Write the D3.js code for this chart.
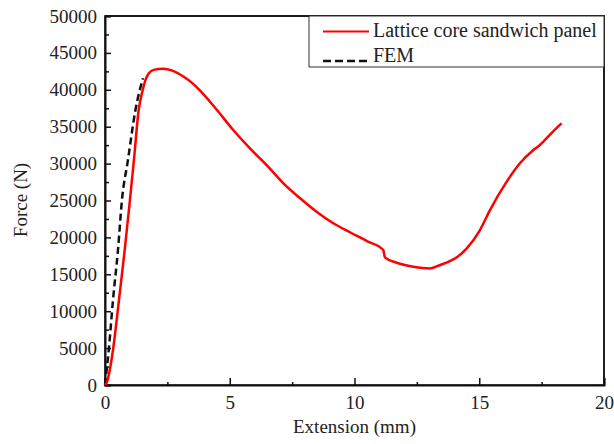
<!DOCTYPE html>
<html>
<head>
<script src="https://cdnjs.cloudflare.com/ajax/libs/d3/7.8.5/d3.min.js"></script>
<style>
  html, body { margin: 0; padding: 0; background: #fff; }
  svg text { font-family: "Liberation Serif", "Times New Roman", serif; fill: #222; }
</style>
</head>
<body>
<svg id="chart" width="614" height="444"></svg>
<script>
// measured curve: Lattice core sandwich panel
var panelExt = [0, 0.1, 0.2, 0.32, 0.56, 0.79, 0.98, 1.16, 1.35, 1.5, 1.62, 1.75, 1.95, 2.33, 2.7, 3.14, 3.5, 3.81, 4.48, 5.14, 5.81, 6.48, 7.15, 7.82, 8.48, 9.15, 9.82, 10.5, 11.15, 11.22, 11.69, 12.36, 13.03, 13.43, 14.1, 14.5, 15.03, 15.43, 16.1, 16.63, 17.17, 17.43, 17.8, 18.3];
var panelForce = [0, 600, 2200, 4740, 11500, 18300, 24400, 30500, 37260, 39800, 41300, 42200, 42700, 42850, 42600, 41800, 40900, 39900, 37300, 34550, 32070, 29800, 27330, 25300, 23480, 21910, 20700, 19500, 18300, 17300, 16570, 16030, 15800, 16260, 17300, 18520, 21000, 23700, 27550, 30040, 31840, 32520, 33800, 35460];

// FEM curve
var femExt = [0, 0.05, 0.15, 0.32, 0.52, 0.68, 0.92, 1.22, 1.52];
var femForce = [0, 1500, 4740, 11500, 18300, 25070, 30500, 37260, 41560];

var xTicks = [0, 5, 10, 15, 20];
var yTicks = [0, 5000, 10000, 15000, 20000, 25000, 30000, 35000, 40000, 45000, 50000];
var seriesNames = ["Lattice core sandwich panel", "FEM"];

var W = 614, H = 444;
var margin = { top: 16, right: 10, bottom: 59, left: 105 };
var iw = W - margin.left - margin.right, ih = H - margin.top - margin.bottom;

var svg = d3.select("#chart");
var g = svg.append("g").attr("transform", "translate(" + margin.left + "," + margin.top + ")");

var x = d3.scaleLinear().domain([0, 20]).range([0, iw]);
var y = d3.scaleLinear().domain([0, 50000]).range([ih, 0]);

// frame
g.append("rect").attr("width", iw).attr("height", ih)
  .attr("fill", "none").attr("stroke", "#111").attr("stroke-width", 1.5);

// minor ticks
g.append("g").attr("transform", "translate(0," + ih + ")")
  .call(d3.axisBottom(x).tickValues(d3.range(2.5, 20, 5)).tickSize(-3).tickFormat(""))
  .call(a => a.select(".domain").remove())
  .selectAll("line").attr("stroke", "#111").attr("stroke-width", 1.5);
g.append("g")
  .call(d3.axisLeft(y).tickValues(d3.range(2500, 50000, 5000)).tickSize(-4).tickFormat(""))
  .call(a => a.select(".domain").remove())
  .selectAll("line").attr("stroke", "#111").attr("stroke-width", 1.5);

// major axes
var xAxis = g.append("g").attr("transform", "translate(0," + ih + ")")
  .call(d3.axisBottom(x).tickValues(xTicks).tickSize(-7).tickPadding(11).tickFormat(d3.format("d")));
var yAxis = g.append("g")
  .call(d3.axisLeft(y).tickValues(yTicks).tickSize(-6).tickPadding(8).tickFormat(d3.format("d")));
[xAxis, yAxis].forEach(function(a) {
  a.select(".domain").attr("stroke", "#111").attr("stroke-width", 2);
  a.selectAll(".tick line").attr("stroke", "#111").attr("stroke-width", 1.5);
  a.selectAll("text").attr("font-size", 19).attr("fill", "#222")
    .style("font-family", "'Liberation Serif', serif");
});

// axis titles
svg.append("text").attr("x", margin.left + iw / 2).attr("y", 433)
  .attr("text-anchor", "middle").attr("font-size", 19).text("Extension (mm)");
svg.append("text").attr("transform", "translate(27,200) rotate(-90)")
  .attr("text-anchor", "middle").attr("font-size", 19).text("Force (N)");

var line = d3.line().x(d => x(d[0])).y(d => y(d[1])).curve(d3.curveMonotoneX);

g.append("path").datum(femExt.map((v, i) => [v, femForce[i]]))
  .attr("d", line).attr("fill", "none").attr("stroke", "#111")
  .attr("stroke-width", 2.5).attr("stroke-dasharray", "7,4");

g.append("path").datum(panelExt.map((v, i) => [v, panelForce[i]]))
  .attr("d", line).attr("fill", "none").attr("stroke", "#f00")
  .attr("stroke-width", 2.5).attr("stroke-linejoin", "round");

// legend
var lg = svg.append("g").attr("transform", "translate(309,16)");
lg.append("rect").attr("width", 295).attr("height", 51)
  .attr("fill", "#fff").attr("stroke", "#333").attr("stroke-width", 1);
lg.append("line").attr("x1", 14).attr("x2", 60).attr("y1", 15.5).attr("y2", 15.5)
  .attr("stroke", "#f00").attr("stroke-width", 2);
lg.append("line").attr("x1", 14).attr("x2", 60).attr("y1", 45).attr("y2", 45)
  .attr("stroke", "#111").attr("stroke-width", 2.5).attr("stroke-dasharray", "8,4");
lg.append("text").attr("x", 64).attr("y", 21).attr("font-size", 20).text(seriesNames[0]);
lg.append("text").attr("x", 64).attr("y", 46).attr("font-size", 20).text(seriesNames[1]);
// top/right frame over legend
g.append("path").attr("d", "M0,0H" + iw + "V" + ih)
  .attr("fill", "none").attr("stroke", "#111").attr("stroke-width", 1.5);
</script>
</body>
</html>
